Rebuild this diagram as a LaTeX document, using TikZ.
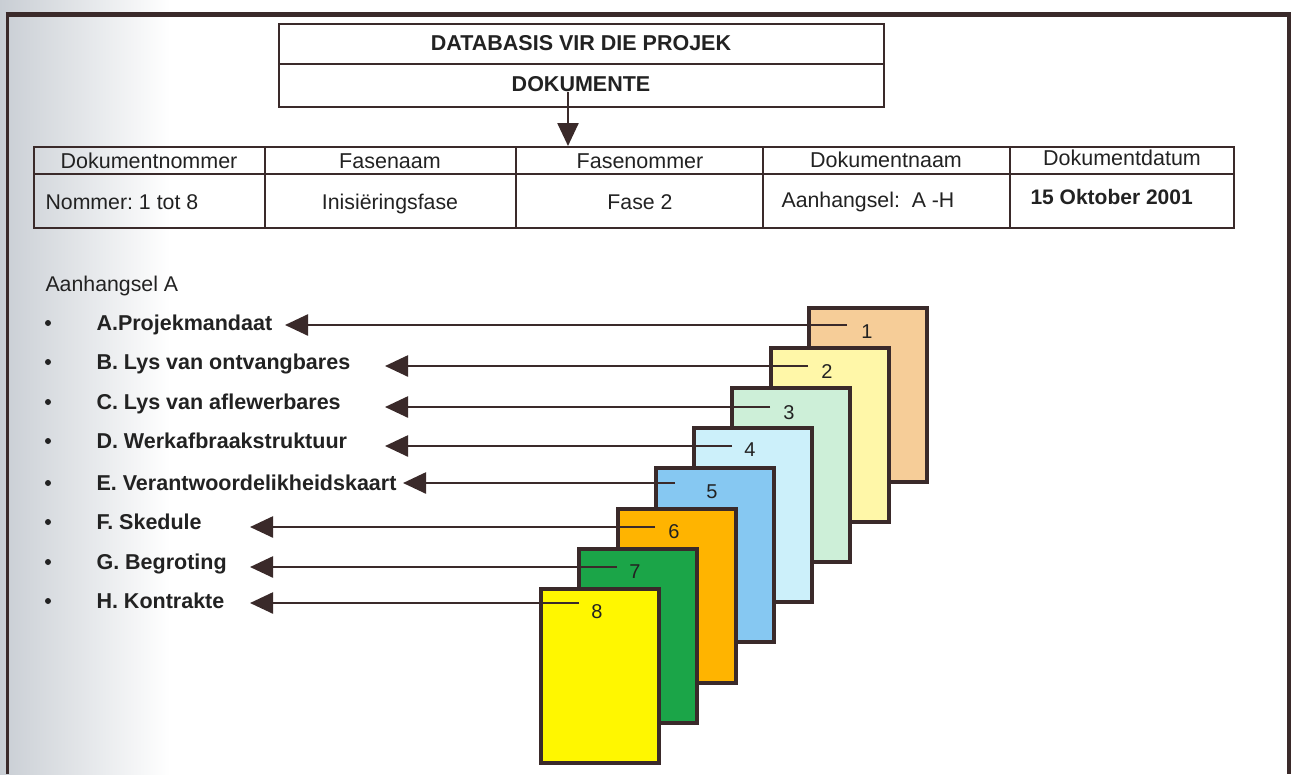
\documentclass[tikz,border=0pt]{standalone}
\usepackage{fontspec}
\setmainfont{Liberation Sans}
\usepackage{graphicx}
\usetikzlibrary{arrows.meta}
\frenchspacing
\definecolor{ink}{HTML}{3A2A2A}
\definecolor{txt}{HTML}{222222}
\definecolor{cA}{HTML}{F6CD98}
\definecolor{cB}{HTML}{FFF7A8}
\definecolor{cC}{HTML}{CDEFD8}
\definecolor{cD}{HTML}{CCF0FA}
\definecolor{cE}{HTML}{86C8F2}
\definecolor{cF}{HTML}{FFB400}
\definecolor{cG}{HTML}{1BA548}
\definecolor{cH}{HTML}{FFF700}
\definecolor{scan}{HTML}{C9CED4}
\tikzset{
  tabline/.style={draw=ink, line width=1.8pt},
  boxtitle/.style={font=\fontsize{21.5}{25}\selectfont\bfseries, text=txt},
  cellhead/.style={font=\fontsize{21.5}{25}\selectfont, text=txt, anchor=base},
  cellrow/.style={font=\fontsize{21.3}{25}\selectfont, text=txt, anchor=base},
  listhead/.style={font=\fontsize{21.3}{25}\selectfont, text=txt, anchor=base west},
  listitem/.style={font=\fontsize{21.5}{25}\selectfont\bfseries, text=txt, anchor=base west},
  bulletdot/.style={circle, fill=txt, inner sep=0pt, minimum size=6pt},
  pagebox/.style={draw=ink, line width=4pt, minimum width=118pt, minimum height=174pt, anchor=north west, inner sep=0pt},
  numtxt/.style={font=\fontsize{20}{23}\selectfont, text=txt},
  arr/.style={draw=ink, line width=2.5pt, -{Triangle[length=23pt,width=21pt]}},
}
\begin{document}
\begin{tikzpicture}[x=1pt,y=-1pt]
\useasboundingbox (0,0) rectangle (1297,774);
% scan shading at left edge
\shade[left color=scan, right color=white, draw=none] (0,0) rectangle (170,774);
\fill[white] (170,0) rectangle (1297,774);
% outer frame
\draw[ink, line width=3pt] (7,774) -- (7,14);
\draw[ink, line width=5pt] (5.5,14) -- (1291,14);
\draw[ink, line width=4pt] (1289,12) -- (1289,774);

% top box
\node[draw=ink, line width=1.8pt, minimum width=605pt, minimum height=83pt, inner sep=0pt, anchor=north west, fill=white] (db) at (278,23) {};
\draw[tabline] (278,64) -- (883,64);
\node[boxtitle] (dbtitle) at (581,43) {DATABASIS VIR DIE PROJEK};
\node[boxtitle] (dok) at (581,84) {DOKUMENTE};

% table
\node[draw=ink, line width=1.8pt, minimum width=1200pt, minimum height=81pt, inner sep=0pt, anchor=north west] (tbl) at (33,146) {};
\draw[tabline] (33,174) -- (1233,174);
\foreach \cx in {265,516,763,1010} \draw[tabline] (\cx,146) -- (\cx,227);
\node[cellhead] (h1) at (149,168) {Dokumentnommer};
\node[cellhead] (h2) at (390,168) {Fasenaam};
\node[cellhead] (h3) at (640,168) {Fasenommer};
\node[cellhead] (h4) at (886,167) {Dokumentnaam};
\node[cellhead] (h5) at (1122,165) {Dokumentdatum};
\node[cellrow, anchor=base west] (r1) at (42,209) {Nommer: 1 tot 8};
\node[cellrow] (r2) at (390,209) {Inisiëringsfase};
\node[cellrow] (r3) at (640,209) {Fase 2};
\node[cellrow, anchor=base west] (r4) at (778,207) {Aanhangsel:\ \ A -H};
\node[cellrow, anchor=base west, font=\fontsize{21}{25}\selectfont\bfseries] (r5) at (1027,204) {15 Oktober 2001};

% arrow from DOKUMENTE to table
\coordinate (dstart) at (568,92);
\draw[arr] (dstart) -- (dstart |- tbl.north);

% list
\node[listhead] (lh) at (42,291) {Aanhangsel A};
\foreach \n/\y/\t in {a/323/{A.Projekmandaat}, b/362/{B. Lys van ontvangbares}, c/402/{C. Lys van aflewerbares}, d/441/{D. Werkafbraakstruktuur}, e/483/{E. Verantwoordelikheidskaart}, f/522/{F. Skedule}, g/562/{G. Begroting}, h/601/{H. Kontrakte}} {
  \node[bulletdot] (bul\n) at (48,\y) {};
  \node[listitem] (item\n) at (93,\y+7.5) {\t};
}

% pages
\foreach \i/\c in {1/cA,2/cB,3/cC,4/cD,5/cE,6/cF,7/cG,8/cH} {
  \node[pagebox, fill=\c] (pg\i) at ({807-38.3*(\i-1)},{306+40.1*(\i-1)}) {};
}

% arrows from pages to list items
\foreach \i/\sx/\sy/\tx in {1/847/325/285, 2/808/366/385, 3/770/407/385, 4/732/446/385, 5/675/483/403, 6/655/527/250, 7/617/567/250, 8/579/603/250} {
  \coordinate (s\i) at (\sx,\sy);
  \coordinate (t\i) at (\tx,\sy);
  \draw[arr] (s\i) -- (t\i);
}

% page numbers
\node[numtxt] (n1) at (867,332) {1};
\node[numtxt] (n2) at (827,372) {2};
\node[numtxt] (n3) at (789,413) {3};
\node[numtxt] (n4) at (750,450) {4};
\node[numtxt] (n5) at (712,492) {5};
\node[numtxt] (n6) at (674,532) {6};
\node[numtxt] (n7) at (635,572) {7};
\node[numtxt] (n8) at (597,612) {8};
\end{tikzpicture}
\end{document}
